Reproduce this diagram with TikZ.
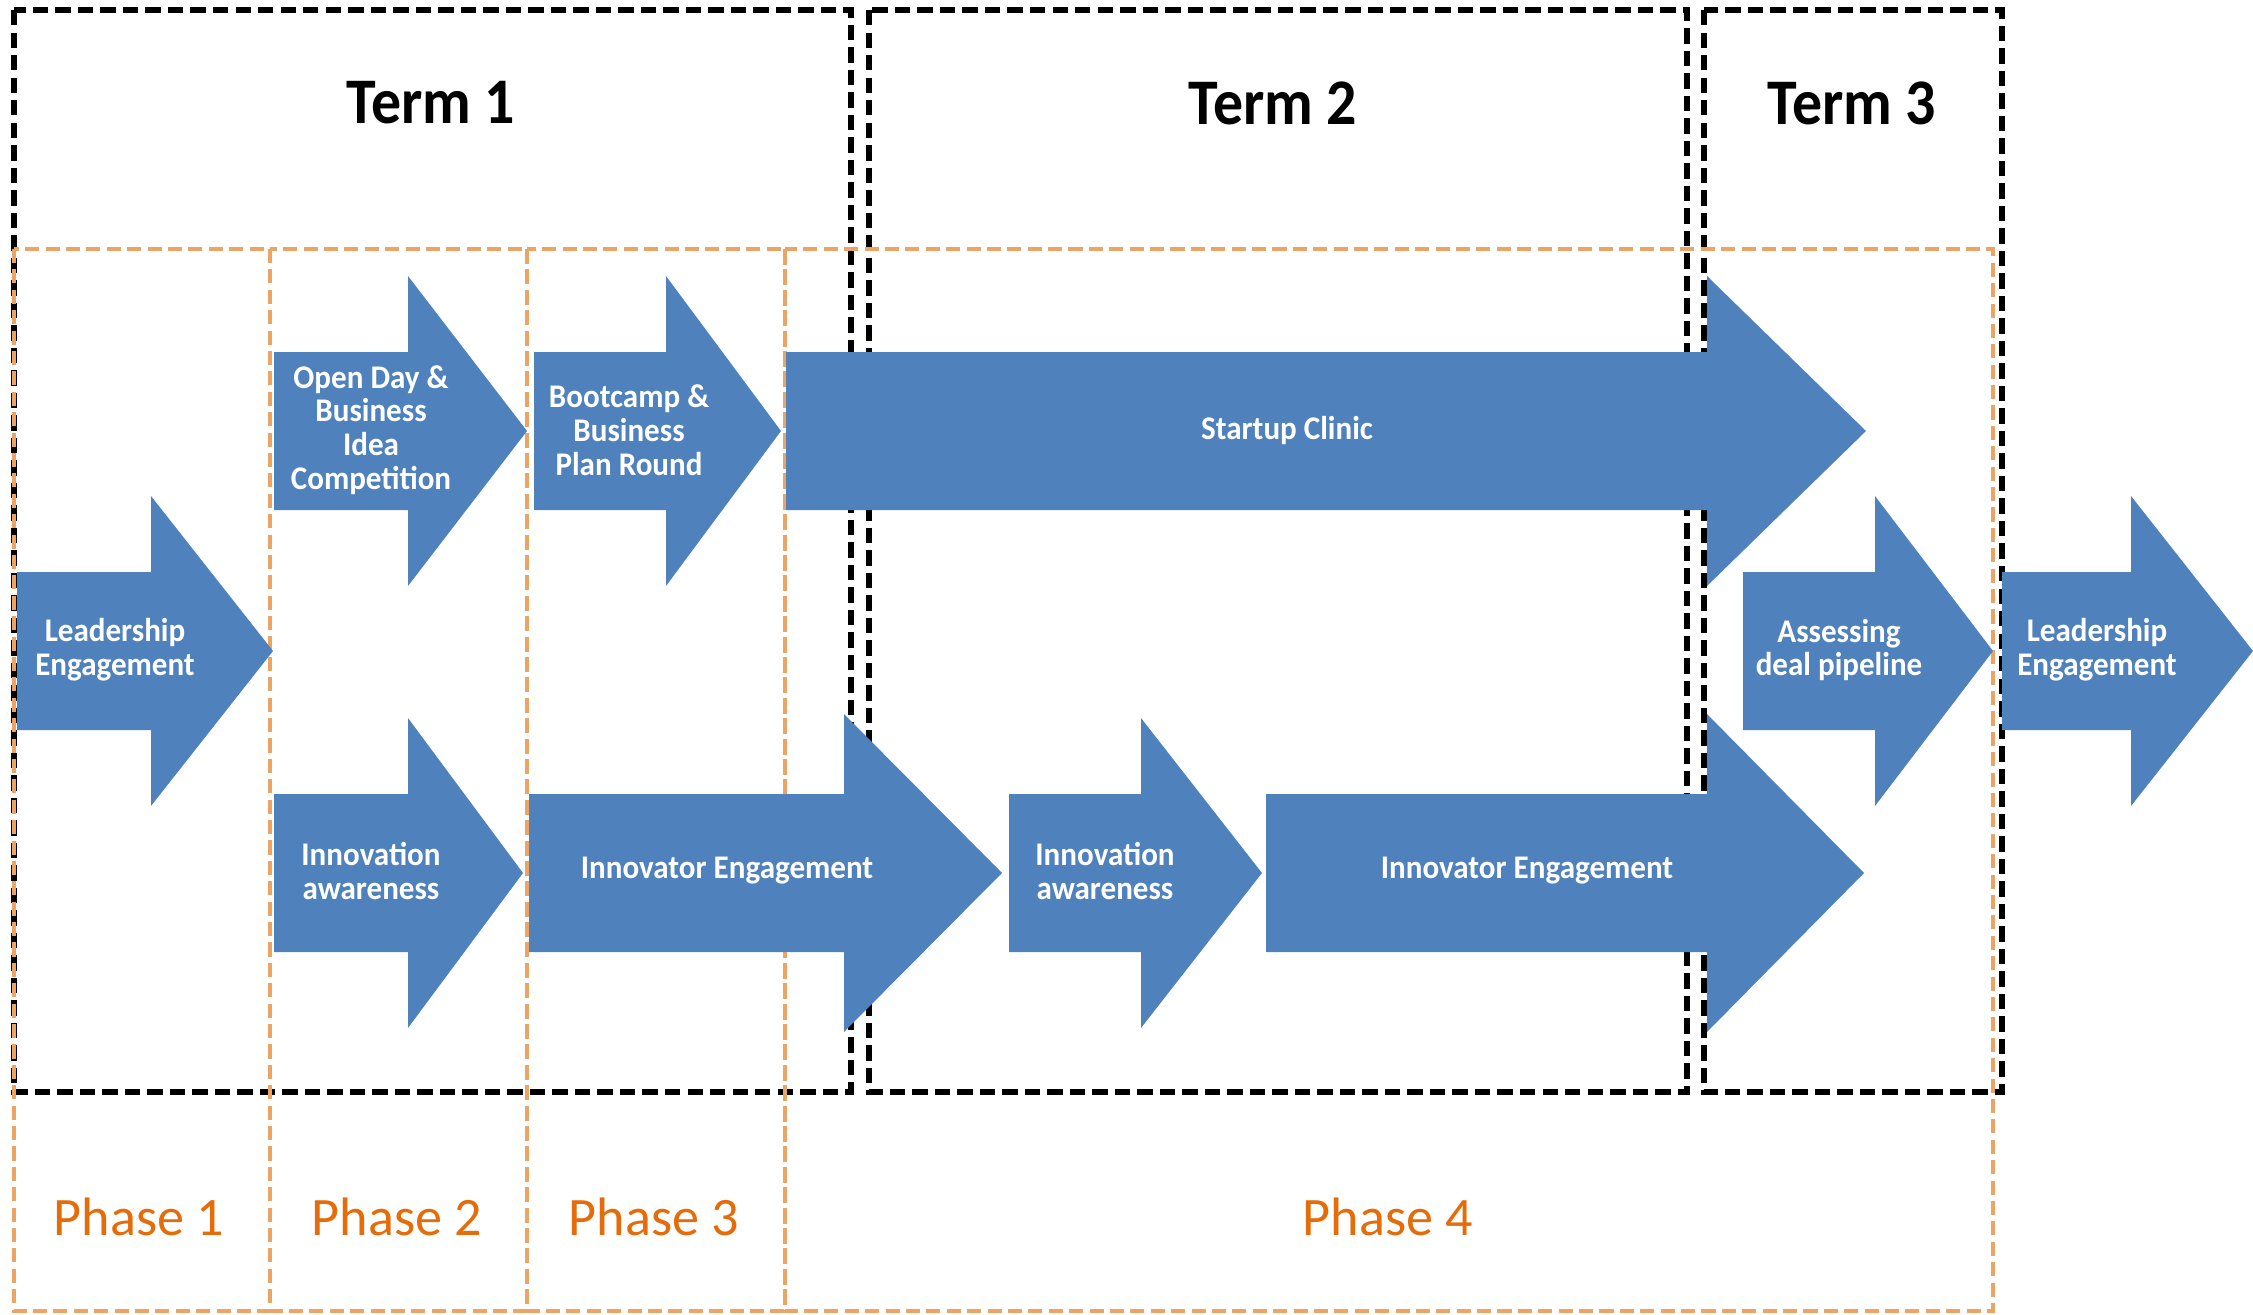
\documentclass[tikz,border=0pt]{standalone}
\usepackage{fontspec}
\setmainfont{Carlito}
\newfontfamily\termfamily[FakeStretch=0.92]{Carlito}
\newfontfamily\arrowfamily[FakeStretch=0.94]{Carlito}
\definecolor{arrowblue}{HTML}{4F81BD}
\definecolor{phaseline}{HTML}{EBA463}
\definecolor{phasetext}{HTML}{E46C0A}
\newcommand{\blockarrow}[6]{%
  \fill[arrowblue] (#1,#4-#5) -- (#2,#4-#5) -- (#2,#4-#6) -- (#3,#4) -- (#2,#4+#6) -- (#2,#4+#5) -- (#1,#4+#5) -- cycle;}
\begin{document}
\begin{tikzpicture}[x=0.01cm,y=-0.01cm,
  termbox/.style={draw=black,line width=1.5pt,dash pattern=on 4.4pt off 2pt},
  phasebox/.style={draw=phaseline,line width=1.1pt,dash pattern=on 4pt off 1.8pt},
  arrowtext/.style={text=white,align=center,inner sep=0pt,font=\arrowfamily\bfseries\fontsize{9.4}{9.6}\selectfont},
  termtext/.style={text=black,inner sep=0pt,font=\termfamily\bfseries\fontsize{18.5}{20}\selectfont},
  phasetxt/.style={text=phasetext,inner sep=0pt,font=\fontsize{15.4}{16}\selectfont}]
\useasboundingbox (0,0) rectangle (2253,1315);
% term boxes
\draw[termbox] (14,10) rectangle (851,1092);
\draw[termbox] (869,10) rectangle (1687,1092);
\draw[termbox] (1704,10) rectangle (2002,1092);
% phase boxes
\draw[phasebox] (14,249) rectangle (270,1311);
\draw[phasebox] (270,249) rectangle (527,1311);
\draw[phasebox] (527,249) rectangle (785,1311);
\draw[phasebox] (785,249) rectangle (1993,1311);
% arrows
\blockarrow{17}{151}{273}{651}{79}{155}
\blockarrow{274}{408}{527}{431}{79}{155}
\blockarrow{534}{666}{781}{431}{79}{155}
\blockarrow{786}{1707}{1866}{431}{79}{155}
\blockarrow{274}{408}{523}{873}{79}{155}
\blockarrow{529}{844}{1002}{873}{79}{159}
\blockarrow{1009}{1141}{1262}{873}{79}{155}
\blockarrow{1266}{1707}{1864}{873}{79}{159}
\blockarrow{1743}{1875}{1993}{651}{79}{155}
\blockarrow{2002}{2131}{2253}{651}{79}{155}
% arrow labels
\node[arrowtext] (lead1) at (115,650) {Leadership\\Engagement};
\node[arrowtext] (open) at (371,430) {Open Day \&\\Business\\Idea\\Competition};
\node[arrowtext] (boot) at (629,430) {Bootcamp \&\\Business\\Plan Round};
\node[arrowtext] (clinic) at (1287,430) {Startup Clinic};
\node[arrowtext] (aware1) at (371,871) {Innovation\\awareness};
\node[arrowtext] (innov1) at (727,871) {Innovator Engagement};
\node[arrowtext] (aware2) at (1105,871) {Innovation\\awareness};
\node[arrowtext] (innov2) at (1527,871) {Innovator Engagement};
\node[arrowtext] (assess) at (1839,650) {Assessing\\deal pipeline};
\node[arrowtext] (lead2) at (2097,650) {Leadership\\Engagement};
% term labels
\node[termtext] (t1) at (431,103) {Term 1};
\node[termtext] (t2) at (1273,103) {Term 2};
\node[termtext] (t3) at (1852,103) {Term 3};
% phase labels
\node[phasetxt] (p1) at (139,1217) {Phase 1};
\node[phasetxt] (p2) at (397,1217) {Phase 2};
\node[phasetxt] (p3) at (654,1217) {Phase 3};
\node[phasetxt] (p4) at (1388,1217) {Phase 4};
\end{tikzpicture}
\end{document}
